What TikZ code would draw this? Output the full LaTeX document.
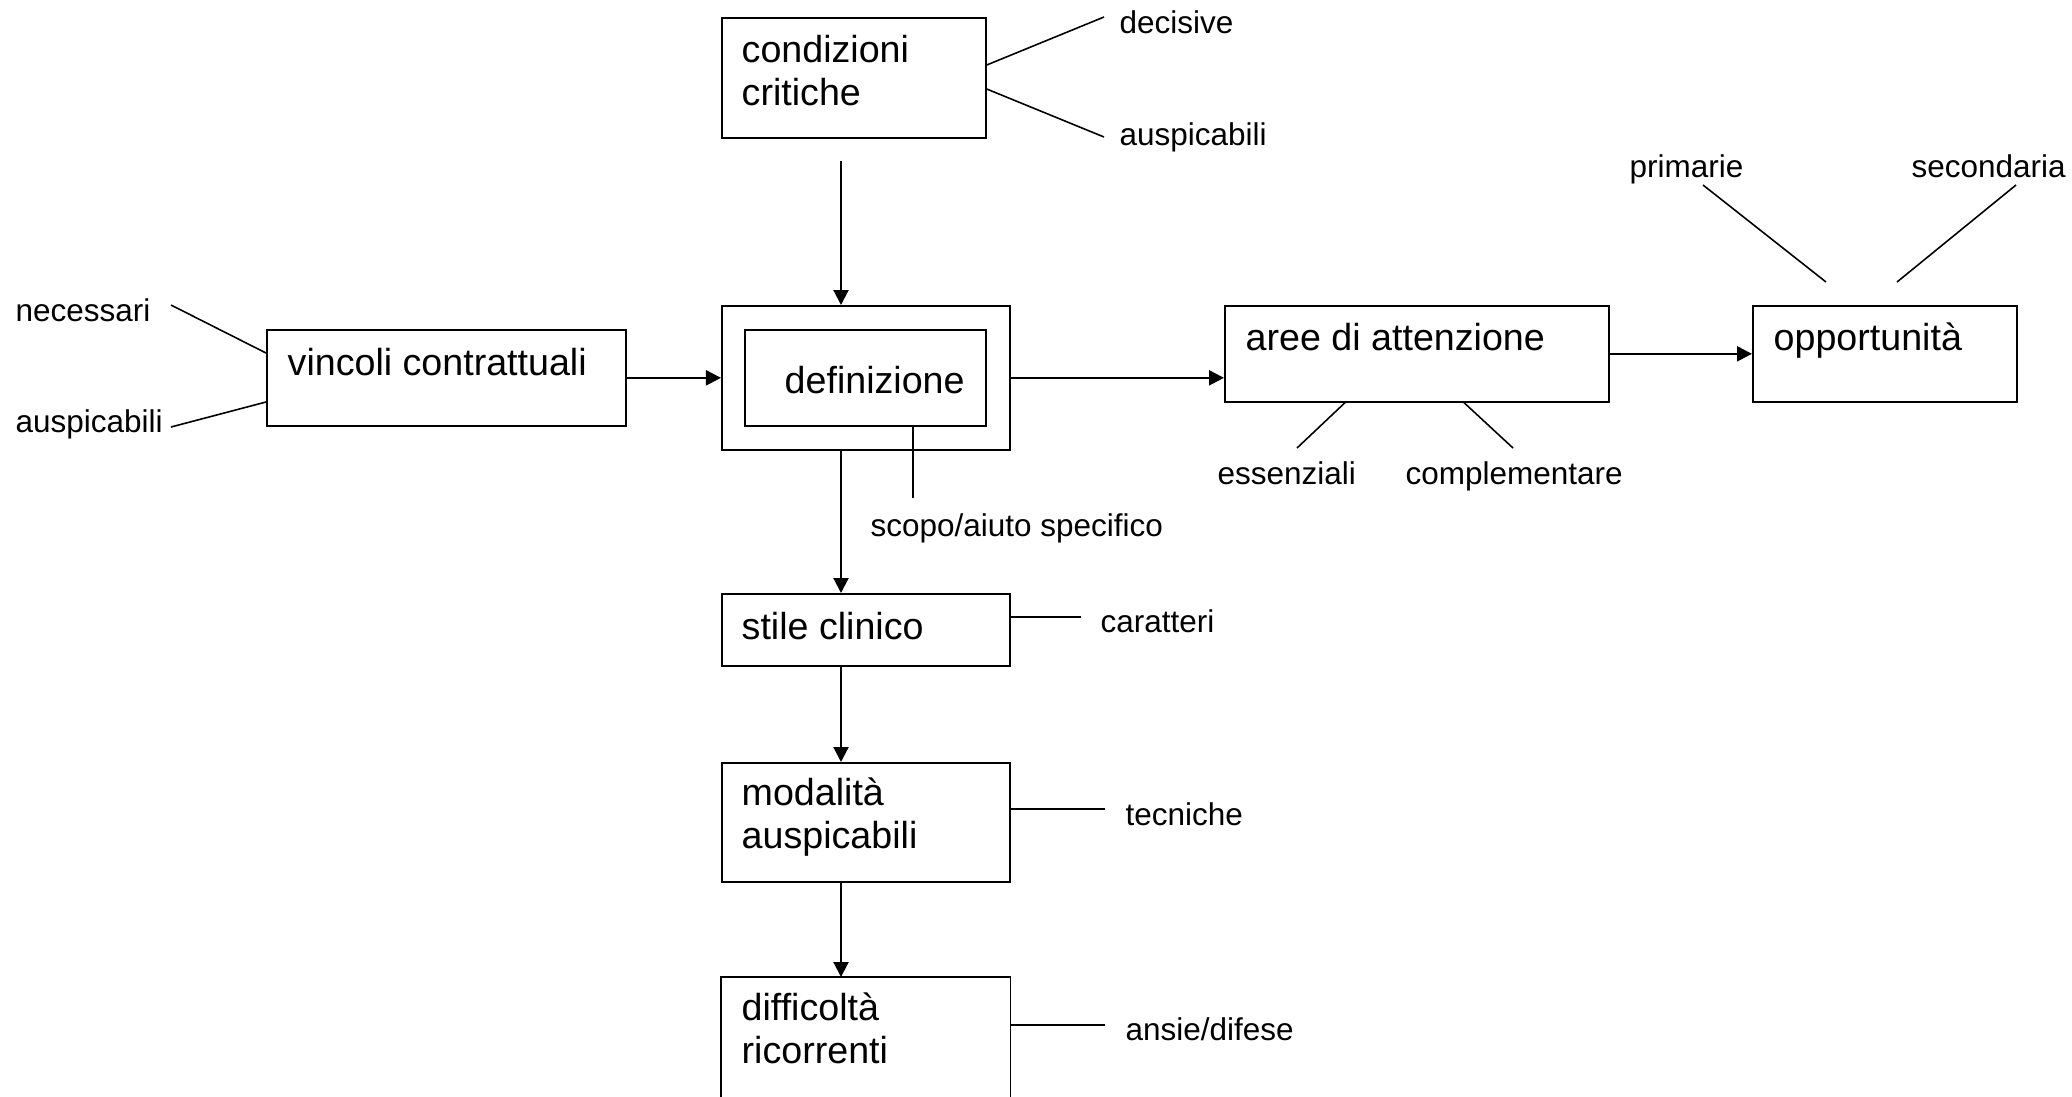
\documentclass[tikz,border=0pt]{standalone}
\usepackage{fontspec}
\setmainfont{Liberation Sans}
\usetikzlibrary{arrows.meta,calc}

\tikzset{
  box/.style={draw, line width=0.45pt, anchor=north west, inner sep=0pt},
  big/.style={anchor=base west, inner sep=0pt, align=left, font=\fontsize{10.7pt}{11.95pt}\selectfont},
  small/.style={anchor=base west, inner sep=0pt, font=\fontsize{8.95pt}{10pt}\selectfont},
  link/.style={line width=0.45pt},
  flow/.style={line width=0.6pt, -{Triangle[length=0.15cm,width=0.15cm]}}
}

\begin{document}
\begin{tikzpicture}[x=0.01cm, y=-0.01cm]
  \useasboundingbox (0,0) rectangle (2072,1096);

  % Boxes
  \node[box, minimum width=2.64cm, minimum height=1.2cm] (cond) at (721,17) {};
  \node[box, minimum width=3.59cm, minimum height=0.96cm] (vinc) at (266,329) {};
  \node[box, minimum width=2.88cm, minimum height=1.44cm] (defout) at (721,305) {};
  \node[box, minimum width=2.41cm, minimum height=0.96cm] (defin) at (744,329) {};
  \node[box, minimum width=3.84cm, minimum height=0.96cm] (aree) at (1224,305) {};
  \node[box, minimum width=2.64cm, minimum height=0.96cm] (opp) at (1752,305) {};
  \node[box, minimum width=2.88cm, minimum height=0.72cm] (stile) at (721,593) {};
  \node[box, minimum width=2.88cm, minimum height=1.19cm] (moda) at (721,762) {};
  \node[anchor=north west, inner sep=0pt, minimum width=2.88cm, minimum height=1.19cm] (diff) at (721,977) {};
  \draw[line width=0.45pt] (diff.south west) |- (diff.north east) -- (diff.south east);

  % Box texts (base = last line)
  \node[big] (condT) at (741,105) {condizioni\\critiche};
  \node[big] (vincT) at (287,375) {vincoli contrattuali};
  \node[big] (definT) at (784,393) {definizione};
  \node[big] (areeT) at (1245,350) {aree di attenzione};
  \node[big] (oppT) at (1773,350) {opportunità};
  \node[big] (stileT) at (741,639) {stile clinico};
  \node[big] (modaT) at (741,848) {modalità\\auspicabili};
  \node[big] (diffT) at (741,1063) {difficoltà\\ricorrenti};

  % Side labels
  \node[small] (decisive) at (1119,33) {decisive};
  \node[small] (auspA) at (1119,145) {auspicabili};
  \node[small] (necessari) at (15,321) {necessari};
  \node[small] (auspB) at (15,432) {auspicabili};
  \node[small] (scopo) at (870,536) {scopo/aiuto specifico};
  \node[small] (primarie) at (1629,177) {primarie};
  \node[small] (secondaria) at (1911,177) {secondaria};
  \node[small] (essenziali) at (1217,484) {essenziali};
  \node[small] (complem) at (1405,484) {complementare};
  \node[small] (caratteri) at (1100,632) {caratteri};
  \node[small] (tecniche) at (1125,825) {tecniche};
  \node[small] (ansie) at (1125,1040) {ansie/difese};

  % Free ends of the label lines
  \coordinate (decEnd) at (1104,17);
  \coordinate (auspAEnd) at (1104,137);
  \coordinate (necEnd) at (171,305);
  \coordinate (auspBEnd) at (171,427);
  \coordinate (scopoEnd) at (913,498);
  \coordinate (primEnd) at (1703,185);
  \coordinate (primStart) at (1826,282);
  \coordinate (secEnd) at (2016,185);
  \coordinate (secStart) at (1897,282);
  \coordinate (essEnd) at (1297,448);
  \coordinate (compEnd) at (1513,448);
  \coordinate (carEnd) at (1081,617);
  \coordinate (tecEnd) at (1105,809);
  \coordinate (ansEnd) at (1105,1025);

  % Label lines
  \draw[link] ($(cond.north east)+(0,48)$) -- (decEnd);
  \draw[link] ($(cond.north east)+(0,72)$) -- (auspAEnd);
  \draw[link] ($(vinc.north west)+(0,24)$) -- (necEnd);
  \draw[link] ($(vinc.north west)+(0,73)$) -- (auspBEnd);
  \draw[line width=0.4pt] (defin.south -| scopoEnd) -- (scopoEnd);
  \draw[link] (primStart) -- (primEnd);
  \draw[link] (secStart) -- (secEnd);
  \draw[link] ($(aree.south west)+(121,0)$) -- (essEnd);
  \draw[link] ($(aree.south west)+(240,0)$) -- (compEnd);
  \draw[link] (stile.east |- carEnd) -- (carEnd);
  \draw[link] (moda.east |- tecEnd) -- (tecEnd);
  \draw[link] (diff.east |- ansEnd) -- (ansEnd);

  % Flow arrows
  \coordinate (spine) at (841,161);
  \draw[flow] (spine) -- (defout.north -| spine);
  \draw[flow] (vinc.east) -- (vinc.east -| defout.west);
  \draw[flow] (defout.east) -- (defout.east -| aree.west);
  \draw[flow] (aree.east) -- (opp.west);
  \draw[flow] (defout.south -| spine) -- (stile.north -| spine);
  \draw[flow] (stile.south -| spine) -- (moda.north -| spine);
  \draw[flow] (moda.south -| spine) -- (diff.north -| spine);

\end{tikzpicture}
\end{document}
